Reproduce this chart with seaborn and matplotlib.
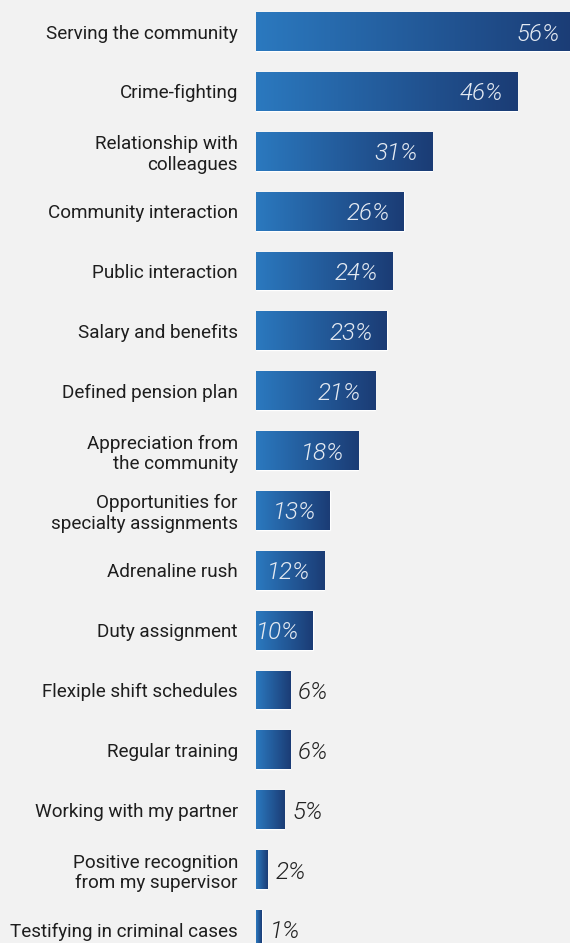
import numpy as np
import pandas as pd
import matplotlib
matplotlib.use("Agg")
import matplotlib.pyplot as plt
import seaborn as sns
from matplotlib.colors import LinearSegmentedColormap

categories = [
    "Serving the community",
    "Crime-fighting",
    "Relationship with\ncolleagues",
    "Community interaction",
    "Public interaction",
    "Salary and benefits",
    "Defined pension plan",
    "Appreciation from\nthe community",
    "Opportunities for\nspecialty assignments",
    "Adrenaline rush",
    "Duty assignment",
    "Flexiple shift schedules",
    "Regular training",
    "Working with my partner",
    "Positive recognition\nfrom my supervisor",
    "Testifying in criminal cases",
]
values = [56, 46, 31, 26, 24, 23, 21, 18, 13, 12, 10, 6, 6, 5, 2, 1]
value_labels = [f"{v}%" for v in values]

BG = "#f2f2f2"

sns.set_theme(style="white")
plt.rcParams["font.family"] = ["Roboto", "DejaVu Sans"]

W, H = 570, 943
fig = plt.figure(figsize=(W / 100, H / 100), dpi=100, facecolor=BG)
ax = fig.add_axes([256 / W, 1 - 959.4 / H, 314 / W, 957.8 / H])
ax.set_facecolor(BG)

df = pd.DataFrame({"reason": categories, "share": values})
sns.barplot(data=df, x="share", y="reason", orient="h", width=0.65,
            color="#2a6fb3", saturation=1, ax=ax)

# horizontal blue gradient inside every bar
cmap = LinearSegmentedColormap.from_list("bar", ["#2b79bf", "#1b3c75"])
grad = np.linspace(0, 1, 256).reshape(1, -1)
for p in list(ax.patches):
    x0, y0, w, h = p.get_x(), p.get_y(), p.get_width(), p.get_height()
    im = ax.imshow(grad, cmap=cmap, aspect="auto", interpolation="bilinear",
                   extent=(x0, x0 + w, y0 + h, y0), zorder=p.get_zorder() + 0.1)
    im.set_clip_path(p)

ax.set_xlim(0, 314 / 5.68)
ax.set_ylim(len(categories) - 0.5, -0.5)

for i, (v, lab) in enumerate(zip(values, value_labels)):
    if v >= 10:
        ax.annotate(lab, xy=(v, i), xytext=(-14, 0), textcoords="offset pixels",
                    ha="right", va="center_baseline", color="#e4eaf2",
                    fontsize=17.5, style="italic", weight=300,
                    annotation_clip=False)
    else:
        ax.annotate(lab, xy=(v, i), xytext=(8, 0), textcoords="offset pixels",
                    ha="left", va="center_baseline", color="#222222",
                    fontsize=17.5, style="italic", weight=300,
                    annotation_clip=False)

ax.set_xticks([])
ax.set_xlabel("")
ax.set_ylabel("")
ax.tick_params(axis="y", length=0, pad=13, labelsize=13.6, labelcolor="#1e1e1e")
sns.despine(ax=ax, left=True, bottom=True)

fig.savefig("out.png", dpi=100, facecolor=BG)
